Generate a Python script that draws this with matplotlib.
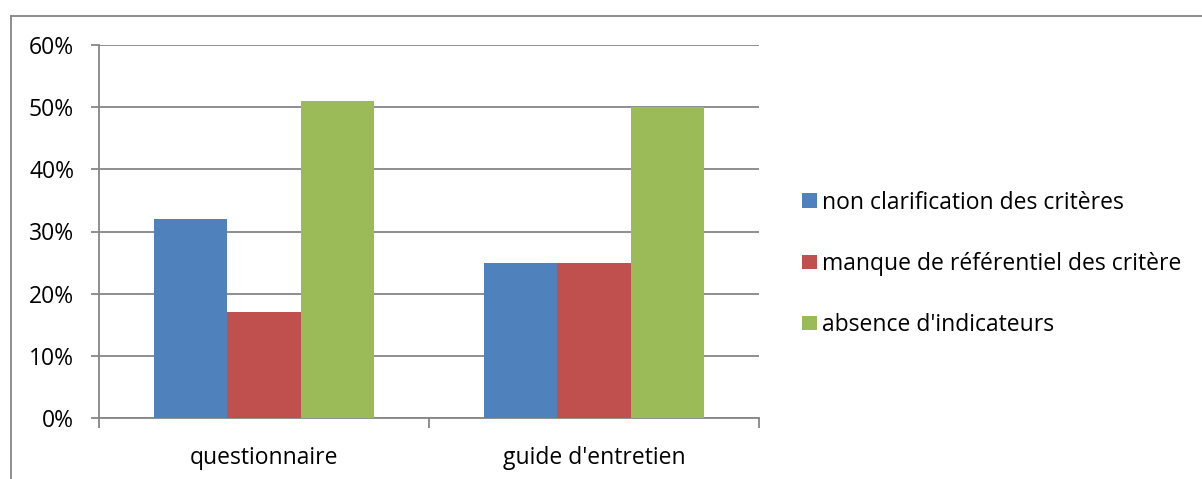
import matplotlib.pyplot as plt
from matplotlib.lines import Line2D
from matplotlib.patches import Patch
import numpy as np

categories = ["questionnaire", "guide d'entretien"]
series_names = ["non clarification des critères",
                "manque de référentiel des critère",
                "absence d'indicateurs"]
values = [
    [32, 25],
    [17, 25],
    [51, 50],
]
colors = ["#4f81bd", "#c0504d", "#9bbb59"]
yticks = [0, 10, 20, 30, 40, 50, 60]

plt.rcParams['font.family'] = ['Open Sans', 'DejaVu Sans']

fig = plt.figure(figsize=(12.02, 4.79), dpi=100)
ax = fig.add_axes([99 / 1202, 61 / 479, 660 / 1202, 373 / 479])

grey = "#868686"
fs = 16.5
x = np.arange(len(categories))
w = 2 / 9
for i, (name, vals) in enumerate(zip(series_names, values)):
    ax.bar(x + (i - 1) * w, vals, width=w, color=colors[i], label=name, zorder=3)

ax.set_xlim(-0.5, 1.5)
ax.set_ylim(0, 60)
ax.set_yticks(yticks)
ax.set_yticklabels([f"{t}%" for t in yticks], fontsize=fs)
ax.yaxis.grid(True, color=grey, linewidth=1.3, zorder=0)
ax.set_xticks(x)
ax.set_xticklabels(categories, fontsize=fs)
ax.tick_params(axis='x', length=0, pad=20)
ax.set_xticks([-0.5, 0.5, 1.5], minor=True)
ax.tick_params(axis='x', which='minor', length=7, color=grey, width=1.3)
ax.tick_params(axis='y', length=6, color=grey, width=1.3, pad=12)
for s in ['top', 'right']:
    ax.spines[s].set_visible(False)
for s in ['left', 'bottom']:
    ax.spines[s].set_color(grey)
    ax.spines[s].set_linewidth(1.3)

handles = [Patch(facecolor=c, edgecolor='none') for c in colors]
fig.legend(handles, series_names, loc='center left',
           bbox_to_anchor=(791 / 1202, (479 - 264) / 479), frameon=False,
           fontsize=fs, handlelength=0.62, handleheight=0.62,
           handletextpad=0.25, labelspacing=1.62, borderpad=0)

# outer chart border
fig.add_artist(Line2D([11 / 1202, 11 / 1202], [0, 1 - 16 / 479],
                      transform=fig.transFigure, color=grey, linewidth=1.3))
fig.add_artist(Line2D([11 / 1202, 1], [1 - 16 / 479, 1 - 16 / 479],
                      transform=fig.transFigure, color=grey, linewidth=1.3))

fig.savefig("out.png", dpi=100)
